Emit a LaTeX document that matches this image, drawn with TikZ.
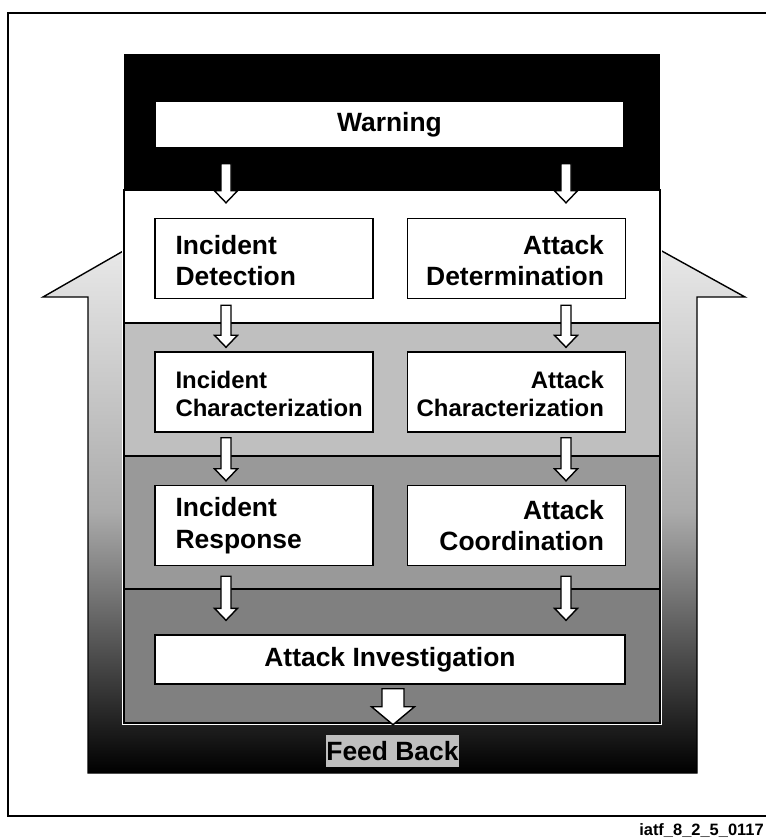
\documentclass[tikz,border=0pt]{standalone}
\usepackage{fontspec}
\setmainfont{Liberation Sans}
\usetikzlibrary{calc}

% hollow block arrow: #1 column, #2 from node, #3 to node, #4 gap at start, #5 gap at tip
\newcommand{\fashaft}{5}
\newcommand{\fahead}{11.5}
\newcommand{\falen}{12}
\newcommand{\flowarrow}[5]{%
  \coordinate (fa-s) at ($(#2.south -| #1)+(0,#4)$);
  \coordinate (fa-t) at ($(#3.north -| #1)+(0,-#5)$);
  \draw[hollow] ($(fa-s)+(-\fashaft,0)$) -- ($(fa-s)+(\fashaft,0)$)
    -- ($(fa-t)+(\fashaft,-\falen)$) -- ($(fa-t)+(\fahead,-\falen)$) -- (fa-t)
    -- ($(fa-t)+(-\fahead,-\falen)$) -- ($(fa-t)+(-\fashaft,-\falen)$) -- cycle;}

\begin{document}
\begin{tikzpicture}[x=0.025cm, y=-0.025cm,
  boxfont/.style={font=\bfseries\fontsize{18.8}{22.5}\selectfont},
  card/.style={draw, fill=white, line width=1pt, minimum width=5.45cm, minimum height=2cm, inner sep=0pt},
  wide/.style={draw, fill=white, line width=1pt, minimum width=11.75cm, inner sep=0pt, boxfont},
  lefttext/.style={inner sep=0pt, anchor=west, align=left, boxfont},
  righttext/.style={inner sep=0pt, anchor=east, align=right, boxfont},
  smallfont/.style={font=\bfseries\fontsize{17}{20}\selectfont},
  band/.style={draw, line width=1pt},
  hollow/.style={draw, fill=white, line width=1pt}]
  \useasboundingbox (0,0) rectangle (766,838);
  % Outer frame, open to the right
  \draw[line width=1pt] (790,13) -- (8,13) -- (8,816) -- (790,816);
  % Feedback loop behind the panel
  \draw[line width=1pt, top color=black!9, bottom color=black, middle color=black!33]
    (88,297) -- (43,297) -- (125,250) -- (660,250) -- (745,297)
    -- (697,297) -- (697,773) -- (88,773) -- cycle;
  % Black head and the four bands
  \fill (124,54) rectangle (660,190);
  \draw[white, line width=3pt] (124,190) -- (124,723) -- (660,723) -- (660,190);
  \draw[band, fill=white] (124,190) rectangle (660,323);
  \draw[band, fill=black!25] (124,323) rectangle (660,456);
  \draw[band, fill=black!40] (124,456) rectangle (660,589);
  \draw[band, fill=black!50] (124,589) rectangle (660,723);
  % Boxes
  \node[wide, minimum width=11.725cm, minimum height=1.175cm] (warn) at (389.5,124.5) {Warning};
  \node[card] (idet) at (264,258.5) {};
  \node[card] (adet) at (516.5,258.5) {};
  \node[card] (ichar) at (264,392) {};
  \node[card] (achar) at (516.5,392) {};
  \node[card] (iresp) at (264,525.5) {};
  \node[card] (acoord) at (516.5,525.5) {};
  \node[wide, minimum height=1.225cm] (ainv) at (390,659.5) {Attack Investigation};
  \node[fill=black!25, minimum width=3.325cm, minimum height=0.8cm, inner sep=0pt, boxfont] (fb) at (392.5,751) {Feed Back};
  % Box texts
  \node[lefttext] (idet-t) at ([xshift=0.525cm,yshift=-0.05cm]idet.west) {Incident\\Detection};
  \node[righttext] (adet-t) at ([xshift=-0.55cm,yshift=-0.05cm]adet.east) {Attack\\Determination};
  \node[lefttext, smallfont] (ichar-t) at ([xshift=0.525cm,yshift=-0.05cm]ichar.west) {Incident\\Characterization};
  \node[righttext, smallfont] (achar-t) at ([xshift=-0.55cm,yshift=-0.05cm]achar.east) {Attack\\Characterization};
  \node[lefttext] (iresp-t) at ([xshift=0.525cm]iresp.west) {Incident\\Response};
  \node[righttext] (acoord-t) at ([xshift=-0.55cm]acoord.east) {Attack\\Coordination};
  % Arrows
  \coordinate (colL) at (226,0);
  \coordinate (colR) at (566,0);
  \coordinate (colM) at (393,0);
  \flowarrow{colL}{warn}{idet}{15}{15}
  \flowarrow{colR}{warn}{adet}{15}{15}
  \flowarrow{colL}{idet}{ichar}{6}{4}
  \flowarrow{colR}{adet}{achar}{6}{4}
  \flowarrow{colL}{ichar}{iresp}{5}{4}
  \flowarrow{colR}{achar}{acoord}{5}{4}
  \flowarrow{colL}{iresp}{ainv}{10}{14}
  \flowarrow{colR}{acoord}{ainv}{10}{14}
  {\renewcommand{\fashaft}{11}\renewcommand{\fahead}{21.5}\renewcommand{\falen}{18}%
   \flowarrow{colM}{ainv}{fb}{4}{10}}
  % Figure tag
  \node[anchor=base east, inner sep=0pt, font=\bfseries\fontsize{11.7}{14}\selectfont] (tag) at (764,835) {iatf\_8\_2\_5\_0117};
\end{tikzpicture}
\end{document}
